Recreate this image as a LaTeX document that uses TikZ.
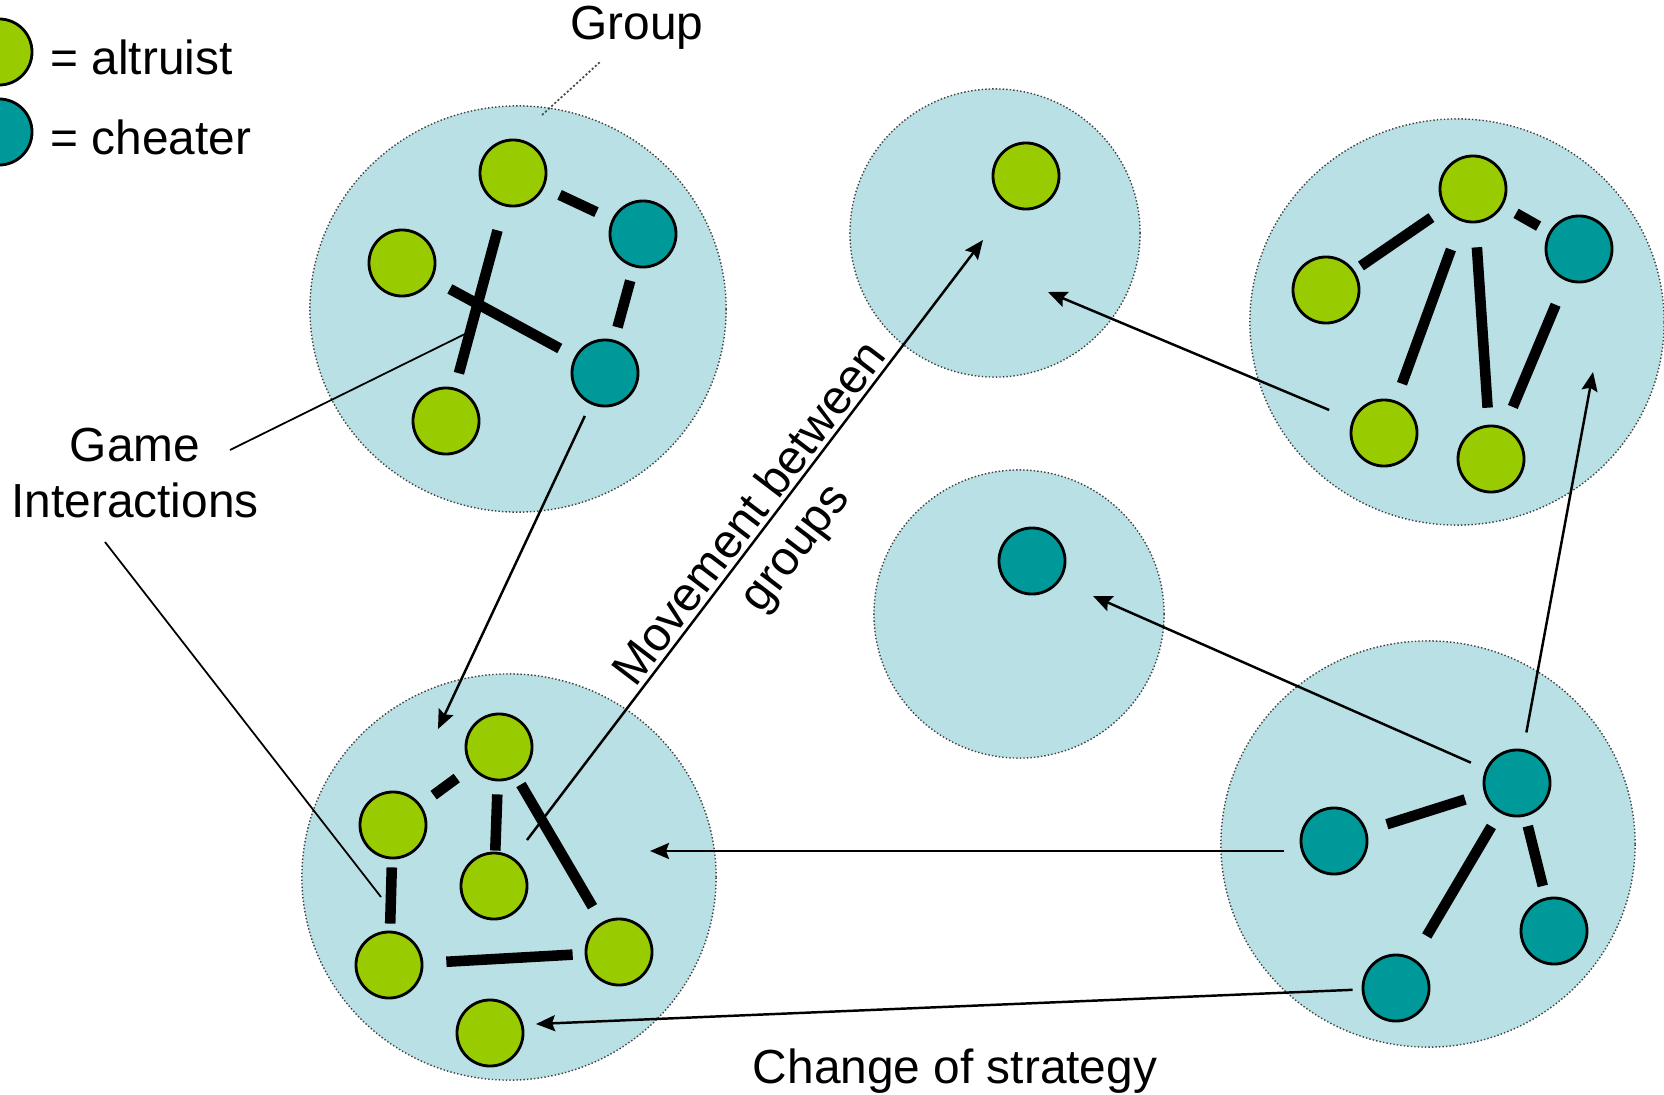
\documentclass[tikz,border=0pt]{standalone}
\usepackage{fontspec}
\setmainfont{Liberation Sans}
\usetikzlibrary{arrows.meta,shapes.geometric}
\definecolor{altgreen}{RGB}{153,204,0}
\definecolor{cheatteal}{RGB}{0,153,153}
\definecolor{groupblue}{RGB}{185,224,228}

\begin{document}
\begin{tikzpicture}[
    x=0.01cm, y=-0.01cm,
    font=\fontsize{13.6}{16}\selectfont,
    group/.style={ellipse, draw=black!75, fill=groupblue, line width=0.4pt,
                  dash pattern=on 0.4pt off 0.6pt, inner sep=0pt},
    bigroup/.style={group, minimum width=4.14cm, minimum height=4.06cm},
    smallgroup/.style={group, minimum width=2.90cm, minimum height=2.88cm},
    player/.style={circle, draw=black, line width=0.8pt, minimum size=0.66cm, inner sep=0pt},
    altruist/.style={player, fill=altgreen},
    cheater/.style={player, fill=cheatteal},
    tie/.style={line width=3pt, shorten <=0.17cm, shorten >=0.17cm},
    move/.style={-{Stealth[length=0.19cm, width=0.16cm, inset=0.03cm]}, line width=0.7pt},
    pointer/.style={line width=0.5pt}
]
\useasboundingbox (0,0) rectangle (1664,1094);

% groups
\node[bigroup, minimum width=4.16cm] (g1) at (518,309) {};
\node[smallgroup] (g2) at (995,233) {};
\node[smallgroup] (g3) at (1019,614) {};
\node[bigroup] (g4) at (1457,322) {};
\node[bigroup] (g5) at (1428,844) {};
\node[bigroup] (g6) at (509,877) {};

% legend
\node[altruist] (keyalt) at (-1,52) {};
\node[anchor=base west] (keyalttxt) at (38,75) {= altruist};
\node[cheater] (keycht) at (-1,132) {};
\node[anchor=base west] (keychttxt) at (38,155) {= cheater};

\node[anchor=base] (grouptxt) at (637,40) {Group};
\coordinate (grouptip) at (542,115);
\draw[pointer, draw=black!70, dash pattern=on 0.6pt off 0.6pt] (grouptxt) -- (grouptip);

% group 1
\node[altruist] (g1a1) at (513,173) {};
\node[altruist] (g1a2) at (402,263) {};
\node[cheater] (g1c1) at (643,234) {};
\node[cheater] (g1c2) at (605,373) {};
\node[altruist] (g1a3) at (446,421) {};
\draw[tie] (g1a1) -- (g1c1);
\draw[tie, shorten <=0.25cm, shorten >=0.15cm] (g1a1) -- (g1a3);
\draw[tie, shorten <=0.20cm] (g1a2) -- (g1c2);
\draw[tie, shorten <=0.14cm, shorten >=0.13cm] (g1c1) -- (g1c2);

% group 2 and 3
\node[altruist] (g2a1) at (1026,176) {};
\node[cheater] (g3c1) at (1032,561) {};

% group 4
\node[altruist] (g4a1) at (1473,189) {};
\node[altruist] (g4a2) at (1326,290) {};
\node[cheater] (g4c1) at (1579,249) {};
\node[altruist] (g4a3) at (1384,433) {};
\node[altruist] (g4a4) at (1491,459) {};
\draw[tie, shorten <=0.16cm, shorten >=0.08cm] (g4a1) -- (g4a2);
\draw[tie, shorten <=0.15cm, shorten >=0.12cm] (g4a1) -- (g4c1);
\draw[tie, shorten <=0.30cm, shorten >=0.18cm] (g4a1) -- (g4a3);
\draw[tie, shorten <=0.24cm] (g4a1) -- (g4a4);
\draw[tie, shorten <=0.26cm, shorten >=0.22cm] (g4c1) -- (g4a4);

% group 5
\node[cheater] (g5c1) at (1517,783) {};
\node[cheater] (g5c2) at (1334,841) {};
\node[cheater] (g5c3) at (1554,931) {};
\node[cheater] (g5c4) at (1396,988) {};
\draw[tie, shorten <=0.20cm, shorten >=0.21cm] (g5c1) -- (g5c2);
\draw[tie, shorten <=0.16cm, shorten >=0.26cm] (g5c1) -- (g5c4);
\draw[tie, shorten <=0.10cm, shorten >=0.12cm] (g5c1) -- (g5c3);

% group 6
\node[altruist] (g6a1) at (499,747) {};
\node[altruist] (g6a2) at (393,825) {};
\node[altruist] (g6a3) at (494,886) {};
\node[altruist] (g6a4) at (389,965) {};
\node[altruist] (g6a5) at (619,952) {};
\node[altruist] (g6a6) at (490,1033) {};
\draw[tie, shorten <=0.18cm, shorten >=0.16cm] (g6a1) -- (g6a2);
\draw[tie, shorten <=0.13cm, shorten >=0.01cm] (g6a1) -- (g6a3);
\draw[tie, shorten <=0.09cm, shorten >=0.18cm] (g6a1) -- (g6a5);
\draw[tie, shorten <=0.08cm, shorten >=0.07cm] (g6a2) -- (g6a4);
\draw[tie, shorten <=0.23cm, shorten >=0.12cm] (g6a4) -- (g6a5);

% labels
\node[align=center] (gametxt) at (135,473) {Game\\Interactions};
\coordinate (gamefrom1) at (230,450);
\coordinate (gameto1) at (467,333);
\coordinate (gamefrom2) at (105,542);
\coordinate (gameto2) at (381,897);
\draw[pointer] (gamefrom1) -- (gameto1);
\draw[pointer] (gamefrom2) -- (gameto2);

\node[rotate=52.7, align=center] (movetxt) at (774,532) {Movement between\\groups};
\node[anchor=base] (changetxt) at (955,1083) {Change of strategy};

% movements and strategy changes
\coordinate (g6in) at (438,729);
\coordinate (g6out) at (527,840);
\coordinate (g2in) at (983,240);
\coordinate (g2side) at (1048,292);
\coordinate (g3in) at (1093,596);
\coordinate (g4in) at (1593,372);
\coordinate (g6side) at (650,851);
\coordinate (g6low) at (536,1024);
\draw[move, shorten <=0.13cm] (g1c2) -- (g6in);
\draw[move] (g6out) -- (g2in);
\draw[move, shorten <=0.25cm] (g4a3) -- (g2side);
\draw[move, shorten <=0.16cm] (g5c1) -- (g3in);
\draw[move, shorten <=0.17cm] (g5c1) -- (g4in);
\draw[move, shorten <=0.16cm] (g6side -| g5c2.west) -- (g6side);
\draw[move, shorten <=0.09cm] (g5c4) -- (g6low);

\end{tikzpicture}
\end{document}
